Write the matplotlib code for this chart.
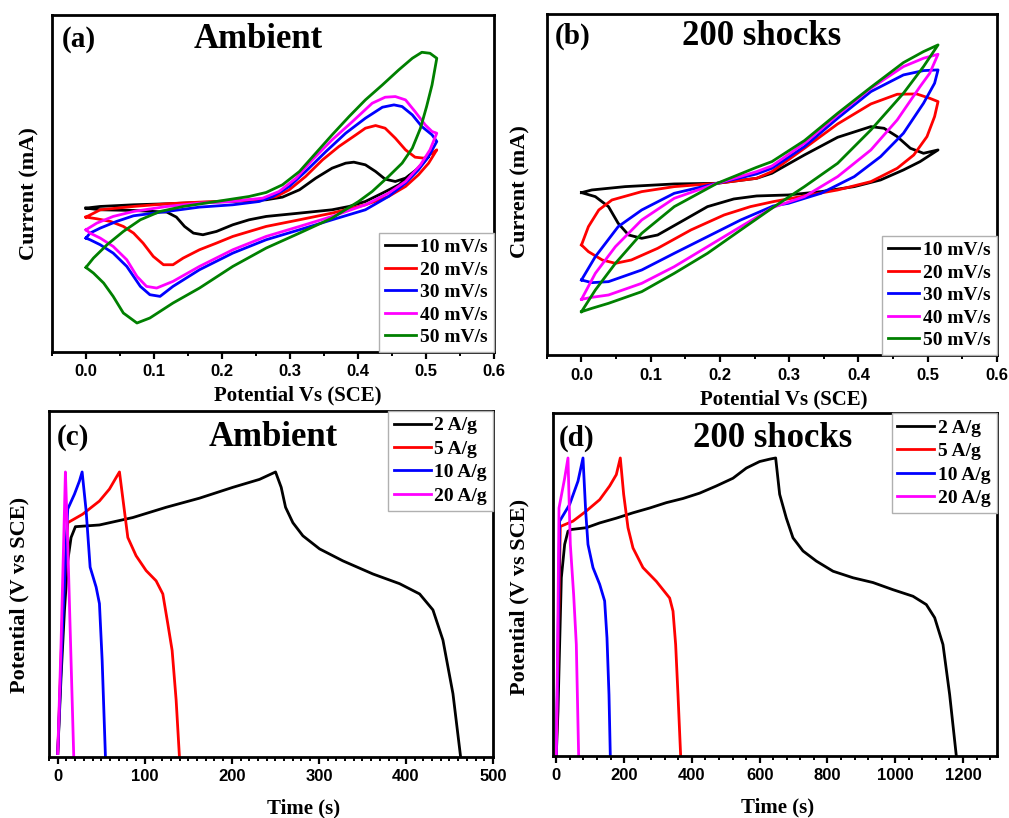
import matplotlib.pyplot as plt
from matplotlib.ticker import MultipleLocator

# ---- CV data, Ambient (potential in V, current in mA) ----
amb_10_fwd_v = [0, 0.021, 0.070, 0.119, 0.167, 0.216, 0.265, 0.289, 0.314, 0.338, 0.362, 0.382, 0.394, 0.411, 0.426, 0.440, 0.455, 0.470, 0.489, 0.504]
amb_10_fwd_i = [-0.10, -0.05, 0.00, 0.03, 0.07, 0.10, 0.15, 0.23, 0.45, 0.80, 1.10, 1.25, 1.28, 1.20, 1.00, 0.77, 0.70, 0.80, 1.10, 1.45]
amb_10_rev_v = [0.504, 0.484, 0.460, 0.436, 0.411, 0.387, 0.362, 0.314, 0.265, 0.240, 0.216, 0.192, 0.172, 0.158, 0.145, 0.133, 0.119, 0.070, 0.021, 0]
amb_10_rev_i = [1.45, 1.00, 0.60, 0.35, 0.10, -0.05, -0.15, -0.25, -0.35, -0.45, -0.60, -0.80, -0.90, -0.85, -0.65, -0.37, -0.22, -0.17, -0.15, -0.10]

amb_20_fwd_v = [0, 0.021, 0.070, 0.119, 0.167, 0.216, 0.260, 0.280, 0.299, 0.323, 0.348, 0.372, 0.397, 0.411, 0.426, 0.440, 0.455, 0.470, 0.484, 0.497, 0.509, 0.516]
amb_20_fwd_i = [-0.37, -0.15, -0.05, 0.03, 0.08, 0.12, 0.17, 0.25, 0.45, 0.85, 1.35, 1.75, 2.10, 2.30, 2.38, 2.30, 2.00, 1.65, 1.43, 1.40, 1.55, 1.65]
amb_20_rev_v = [0.516, 0.504, 0.489, 0.470, 0.445, 0.411, 0.362, 0.314, 0.265, 0.216, 0.192, 0.167, 0.143, 0.128, 0.114, 0.099, 0.084, 0.070, 0.055, 0.036, 0.016, 0]
amb_20_rev_i = [1.65, 1.25, 0.90, 0.55, 0.25, 0.00, -0.25, -0.45, -0.65, -0.95, -1.15, -1.35, -1.60, -1.80, -1.80, -1.55, -1.15, -0.85, -0.65, -0.50, -0.42, -0.37]

amb_30_fwd_v = [0, 0.006, 0.021, 0.045, 0.070, 0.119, 0.167, 0.216, 0.255, 0.275, 0.299, 0.323, 0.353, 0.382, 0.411, 0.436, 0.453, 0.465, 0.480, 0.494, 0.509, 0.516]
amb_30_fwd_i = [-1.00, -0.85, -0.70, -0.50, -0.33, -0.20, -0.07, 0.00, 0.10, 0.25, 0.55, 1.00, 1.60, 2.15, 2.60, 2.93, 3.00, 2.95, 2.70, 2.35, 2.10, 1.90]
amb_30_rev_v = [0.516, 0.504, 0.489, 0.470, 0.445, 0.411, 0.362, 0.314, 0.265, 0.216, 0.167, 0.128, 0.109, 0.094, 0.080, 0.060, 0.040, 0.021, 0.006, 0]
amb_30_rev_i = [1.90, 1.45, 1.05, 0.65, 0.25, -0.15, -0.45, -0.75, -1.05, -1.45, -1.95, -2.45, -2.75, -2.70, -2.45, -1.85, -1.45, -1.20, -1.05, -1.00]

amb_40_fwd_v = [0, 0.016, 0.040, 0.070, 0.119, 0.167, 0.216, 0.260, 0.284, 0.309, 0.333, 0.362, 0.392, 0.421, 0.440, 0.455, 0.470, 0.484, 0.499, 0.509, 0.516]
amb_40_fwd_i = [-0.75, -0.55, -0.35, -0.20, -0.05, 0.05, 0.10, 0.20, 0.40, 0.80, 1.35, 1.95, 2.50, 3.05, 3.23, 3.25, 3.15, 2.80, 2.40, 2.20, 2.15]
amb_40_rev_v = [0.516, 0.506, 0.492, 0.470, 0.445, 0.411, 0.362, 0.314, 0.265, 0.216, 0.167, 0.128, 0.104, 0.089, 0.075, 0.060, 0.040, 0.021, 0.006, 0]
amb_40_rev_i = [2.15, 1.65, 1.20, 0.70, 0.35, 0.00, -0.35, -0.65, -0.95, -1.35, -1.85, -2.30, -2.50, -2.45, -2.15, -1.65, -1.25, -1.00, -0.85, -0.75]

amb_50_fwd_v = [0, 0.011, 0.031, 0.055, 0.080, 0.109, 0.143, 0.192, 0.240, 0.265, 0.289, 0.314, 0.338, 0.362, 0.387, 0.411, 0.436, 0.460, 0.480, 0.494, 0.506, 0.516]
amb_50_fwd_i = [-1.88, -1.60, -1.20, -0.80, -0.45, -0.20, -0.05, 0.10, 0.25, 0.37, 0.60, 1.00, 1.55, 2.10, 2.65, 3.15, 3.60, 4.05, 4.40, 4.58, 4.55, 4.40]
amb_50_rev_v = [0.516, 0.509, 0.501, 0.492, 0.480, 0.465, 0.445, 0.421, 0.401, 0.362, 0.314, 0.265, 0.216, 0.167, 0.128, 0.094, 0.075, 0.055, 0.040, 0.026, 0.011, 0]
amb_50_rev_i = [4.40, 3.60, 2.95, 2.30, 1.70, 1.25, 0.85, 0.40, 0.10, -0.40, -0.85, -1.30, -1.85, -2.50, -2.95, -3.40, -3.55, -3.25, -2.75, -2.35, -2.05, -1.88]

# ---- CV data, 200 shocks ----
sh_10_fwd_v = [0, 0.015, 0.063, 0.134, 0.196, 0.253, 0.275, 0.322, 0.370, 0.418, 0.437, 0.456, 0.475, 0.494, 0.515]
sh_10_fwd_i = [-0.28, -0.20, -0.10, -0.02, 0.00, 0.15, 0.30, 0.85, 1.38, 1.70, 1.65, 1.40, 1.05, 0.90, 1.00]
sh_10_rev_v = [0.515, 0.489, 0.465, 0.432, 0.394, 0.346, 0.299, 0.253, 0.220, 0.182, 0.144, 0.110, 0.087, 0.068, 0.053, 0.039, 0.020, 0]
sh_10_rev_i = [1.00, 0.65, 0.40, 0.10, -0.10, -0.25, -0.35, -0.38, -0.47, -0.70, -1.15, -1.55, -1.65, -1.55, -1.20, -0.70, -0.40, -0.28]

sh_20_fwd_v = [0, 0.010, 0.025, 0.044, 0.087, 0.134, 0.196, 0.253, 0.275, 0.322, 0.370, 0.418, 0.456, 0.484, 0.503, 0.515]
sh_20_fwd_i = [-1.85, -1.30, -0.80, -0.50, -0.25, -0.10, 0.00, 0.15, 0.35, 1.05, 1.78, 2.38, 2.67, 2.68, 2.55, 2.45]
sh_20_rev_v = [0.515, 0.510, 0.499, 0.480, 0.456, 0.418, 0.370, 0.322, 0.277, 0.244, 0.206, 0.158, 0.110, 0.072, 0.049, 0.030, 0.010, 0]
sh_20_rev_i = [2.45, 2.00, 1.40, 0.85, 0.45, 0.05, -0.20, -0.38, -0.55, -0.70, -0.95, -1.40, -1.95, -2.30, -2.40, -2.30, -2.05, -1.85]

sh_30_fwd_v = [0, 0.020, 0.053, 0.087, 0.134, 0.196, 0.253, 0.275, 0.322, 0.370, 0.418, 0.465, 0.494, 0.515]
sh_30_fwd_i = [-2.90, -2.20, -1.30, -0.80, -0.30, 0.00, 0.28, 0.45, 1.10, 1.95, 2.75, 3.25, 3.38, 3.40]
sh_30_rev_v = [0.515, 0.510, 0.494, 0.465, 0.432, 0.394, 0.346, 0.299, 0.277, 0.230, 0.182, 0.134, 0.087, 0.039, 0.015, 0]
sh_30_rev_i = [3.40, 3.00, 2.40, 1.50, 0.80, 0.20, -0.30, -0.60, -0.68, -1.10, -1.60, -2.10, -2.60, -2.95, -2.98, -2.90]

sh_40_fwd_v = [0, 0.020, 0.049, 0.087, 0.134, 0.196, 0.253, 0.275, 0.322, 0.370, 0.418, 0.465, 0.494, 0.515]
sh_40_fwd_i = [-3.48, -2.70, -1.90, -1.10, -0.45, 0.00, 0.35, 0.52, 1.20, 2.05, 2.85, 3.50, 3.75, 3.87]
sh_40_rev_v = [0.515, 0.503, 0.489, 0.456, 0.418, 0.370, 0.322, 0.277, 0.230, 0.182, 0.134, 0.087, 0.039, 0.015, 0]
sh_40_rev_i = [3.87, 3.30, 2.90, 1.90, 1.00, 0.20, -0.40, -0.72, -1.30, -1.90, -2.50, -3.00, -3.35, -3.42, -3.48]

sh_50_fwd_v = [0, 0.020, 0.049, 0.087, 0.134, 0.196, 0.253, 0.275, 0.322, 0.370, 0.418, 0.465, 0.494, 0.515]
sh_50_fwd_i = [-3.85, -3.20, -2.40, -1.50, -0.70, 0.00, 0.48, 0.65, 1.28, 2.10, 2.88, 3.62, 3.95, 4.15]
sh_50_rev_v = [0.515, 0.494, 0.465, 0.418, 0.370, 0.322, 0.277, 0.230, 0.182, 0.134, 0.087, 0.039, 0.015, 0]
sh_50_rev_i = [4.15, 3.50, 2.70, 1.60, 0.60, -0.10, -0.72, -1.40, -2.10, -2.70, -3.25, -3.60, -3.75, -3.85]

# ---- GCD data, Ambient (time in s, potential in V) ----
amb_2_t = [0, 3.8, 7.7, 11.5, 15.3, 20.3, 47.9, 86.2, 124.5, 162.8, 201.1, 231.8, 250.2, 256.7, 261.7, 270.1, 281.6, 300.8, 327.6, 362.1, 392.7, 415.7, 431.0, 442.5, 454.0, 462.8]
amb_2_u = [0.006, 0.140, 0.257, 0.344, 0.385, 0.404, 0.407, 0.420, 0.438, 0.454, 0.473, 0.487, 0.500, 0.473, 0.438, 0.411, 0.388, 0.365, 0.344, 0.321, 0.304, 0.286, 0.258, 0.205, 0.111, 0.0]
amb_5_t = [0, 5.7, 11.5, 28.7, 47.9, 59.4, 67.0, 70.9, 80.5, 90.0, 101.5, 113.0, 120.7, 126.4, 131.4, 136.0, 139.8]
amb_5_u = [0.006, 0.257, 0.411, 0.426, 0.449, 0.470, 0.490, 0.500, 0.385, 0.353, 0.327, 0.309, 0.286, 0.234, 0.187, 0.100, 0.0]
amb_10_t = [0, 5.7, 11.5, 19.2, 24.9, 28.0, 32.6, 37.2, 44.1, 47.9, 51.0, 54.8]
amb_10_u = [0.006, 0.234, 0.435, 0.461, 0.484, 0.500, 0.432, 0.333, 0.298, 0.269, 0.170, 0.0]
amb_20_t = [0, 3.8, 7.7, 8.8, 11.5, 14.2, 18.4]
amb_20_u = [0.006, 0.199, 0.432, 0.500, 0.374, 0.228, 0.0]

# ---- GCD data, 200 shocks ----
sh_2_t = [0, 4.9, 9.8, 14.8, 24.6, 34.4, 44.3, 88.5, 127.9, 177.0, 226.2, 275.4, 324.6, 373.8, 423.0, 472.1, 521.3, 560.6, 600.0, 629.5, 647.2,
          659.0, 678.7, 698.3, 727.8, 767.2, 816.4, 875.4, 934.4, 993.4, 1052.4, 1091.8, 1116.4, 1140.9, 1160.6, 1180.3]
sh_2_u = [0.003, 0.075, 0.187, 0.299, 0.355, 0.377, 0.380, 0.383, 0.391, 0.399, 0.408, 0.416, 0.425, 0.432, 0.441, 0.453, 0.466, 0.483, 0.494, 0.498, 0.500,
          0.439, 0.399, 0.366, 0.344, 0.327, 0.310, 0.299, 0.291, 0.279, 0.268, 0.254, 0.232, 0.187, 0.103, 0.0]
sh_5_t = [0, 5.9, 11.8, 49.2, 88.5, 127.9, 157.4, 177.0, 188.8, 198.7, 211.5, 226.2, 255.7, 295.1, 334.4, 344.3, 352.1, 359.0, 366.9]
sh_5_u = [0.003, 0.187, 0.385, 0.394, 0.411, 0.430, 0.453, 0.472, 0.500, 0.439, 0.383, 0.349, 0.316, 0.293, 0.265, 0.243, 0.187, 0.103, 0.0]
sh_10_t = [0, 4.9, 9.8, 39.3, 63.9, 78.7, 86.6, 93.4, 108.2, 127.9, 142.6, 149.5, 155.4, 159.3]
sh_10_u = [0.003, 0.187, 0.394, 0.422, 0.461, 0.500, 0.411, 0.355, 0.316, 0.288, 0.260, 0.198, 0.103, 0.0]
sh_20_t = [0, 3.9, 7.9, 24.6, 34.4, 41.3, 51.1, 59.0, 65.9]
sh_20_u = [0.003, 0.187, 0.416, 0.466, 0.500, 0.355, 0.271, 0.187, 0.0]

cv_labels = ['10 mV/s', '20 mV/s', '30 mV/s', '40 mV/s', '50 mV/s']
gcd_labels = ['2 A/g', '5 A/g', '10 A/g', '20 A/g']
cv_colors = ['black', '#ff0000', '#0000ff', '#ff00ff', '#008000']
gcd_colors = ['black', '#ff0000', '#0000ff', '#ff00ff']

SERIF = 'Liberation Serif'
SANS = 'Liberation Sans'

# tick labels: bold sans; everything else names the serif face explicitly
plt.rcParams['font.family'] = [SANS, 'DejaVu Sans']
plt.rcParams['font.weight'] = 'bold'
plt.rcParams['xtick.labelsize'] = 12

fig = plt.figure(figsize=(10.09, 8.18), dpi=100)
ax_a = fig.add_axes([0.0515, 0.5697, 0.438, 0.412])
ax_b = fig.add_axes([0.542, 0.566, 0.446, 0.417])
ax_c = fig.add_axes([0.0486, 0.0746, 0.440, 0.423])
ax_d = fig.add_axes([0.548, 0.0758, 0.440, 0.419])


def style_axes(ax):
    for sp in ax.spines.values():
        sp.set_linewidth(2.0)
    ax.tick_params(axis='x', which='major', direction='out', length=5, width=1.6, pad=4)
    ax.tick_params(axis='x', which='minor', direction='out', length=3, width=1.4)
    ax.tick_params(axis='y', which='both', left=False, labelleft=False)


def cv_panel(ax, curves, tag, title, ylim, tag_xy, title_xy, xlab_x):
    for (fv, fi, rv, ri), col, lab in zip(curves, cv_colors, cv_labels):
        ax.plot(fv + rv, fi + ri, color=col, lw=2.0, label=lab)
    ax.set_xlim(-0.05, 0.6)
    ax.set_ylim(*ylim)
    ax.xaxis.set_major_locator(MultipleLocator(0.1))
    ax.xaxis.set_minor_locator(MultipleLocator(0.05))
    ax.xaxis.set_major_formatter(plt.FuncFormatter(lambda v, p: f'{v:.1f}'))
    style_axes(ax)
    ax.set_xlabel('Potential Vs (SCE)', family=SERIF, weight='bold', fontsize=15)
    ax.set_ylabel('Current (mA)', family=SERIF, weight='bold', fontsize=16)
    ax.xaxis.set_label_coords(xlab_x, -0.10)
    ax.text(*tag_xy, tag, transform=ax.transAxes, family=SERIF, weight='bold',
            fontsize=21, ha='left', va='center')
    ax.text(*title_xy, title, transform=ax.transAxes, family=SERIF, weight='bold',
            fontsize=25, ha='center', va='center')
    ax.legend(loc='lower right', borderaxespad=0, fancybox=False, framealpha=1,
              edgecolor='#b0b0b0', handlelength=1.6, handletextpad=0.2,
              labelspacing=0.25, borderpad=0.3,
              prop={'family': SERIF, 'weight': 'bold', 'size': 14})


def gcd_panel(ax, curves, tag, title, xlim, major, minor, ylim, tag_xy, title_xy, xlab_x):
    for (t, u), col, lab in zip(curves, gcd_colors, gcd_labels):
        ax.plot(t, u, color=col, lw=2.0, label=lab)
    ax.set_xlim(*xlim)
    ax.set_ylim(*ylim)
    ax.xaxis.set_major_locator(MultipleLocator(major))
    ax.xaxis.set_minor_locator(MultipleLocator(minor))
    style_axes(ax)
    ax.set_xlabel('Time (s)', family=SERIF, weight='bold', fontsize=15)
    ax.set_ylabel('Potential (V vs SCE)', family=SERIF, weight='bold', fontsize=16)
    ax.xaxis.set_label_coords(xlab_x, -0.12)
    ax.text(*tag_xy, tag, transform=ax.transAxes, family=SERIF, weight='bold',
            fontsize=21, ha='left', va='center')
    ax.text(*title_xy, title, transform=ax.transAxes, family=SERIF, weight='bold',
            fontsize=25, ha='center', va='center')
    ax.legend(loc='upper right', borderaxespad=0, fancybox=False, framealpha=1,
              edgecolor='#b0b0b0', handlelength=1.9, handletextpad=0.2,
              labelspacing=0.3, borderpad=0.3,
              prop={'family': SERIF, 'weight': 'bold', 'size': 14})


cv_panel(ax_a,
         [(amb_10_fwd_v, amb_10_fwd_i, amb_10_rev_v, amb_10_rev_i),
          (amb_20_fwd_v, amb_20_fwd_i, amb_20_rev_v, amb_20_rev_i),
          (amb_30_fwd_v, amb_30_fwd_i, amb_30_rev_v, amb_30_rev_i),
          (amb_40_fwd_v, amb_40_fwd_i, amb_40_rev_v, amb_40_rev_i),
          (amb_50_fwd_v, amb_50_fwd_i, amb_50_rev_v, amb_50_rev_i)],
         '(a)', 'Ambient', (-4.42, 5.70), (0.023, 0.926), (0.466, 0.926), 0.557)
ax_a.yaxis.set_label_coords(-0.028, 0.47)

cv_panel(ax_b,
         [(sh_10_fwd_v, sh_10_fwd_i, sh_10_rev_v, sh_10_rev_i),
          (sh_20_fwd_v, sh_20_fwd_i, sh_20_rev_v, sh_20_rev_i),
          (sh_30_fwd_v, sh_30_fwd_i, sh_30_rev_v, sh_30_rev_i),
          (sh_40_fwd_v, sh_40_fwd_i, sh_40_rev_v, sh_40_rev_i),
          (sh_50_fwd_v, sh_50_fwd_i, sh_50_rev_v, sh_50_rev_i)],
         '(b)', '200 shocks', (-5.15, 5.08), (0.018, 0.933), (0.478, 0.933), 0.527)
ax_b.yaxis.set_label_coords(-0.037, 0.478)

gcd_panel(ax_c,
          [(amb_2_t, amb_2_u), (amb_5_t, amb_5_u), (amb_10_t, amb_10_u), (amb_20_t, amb_20_u)],
          '(c)', 'Ambient', (-10, 500), 100, 10, (0, 0.607), (0.018, 0.922), (0.505, 0.922), 0.574)
ax_c.yaxis.set_label_coords(-0.045, 0.468)

gcd_panel(ax_d,
          [(sh_2_t, sh_2_u), (sh_5_t, sh_5_u), (sh_10_t, sh_10_u), (sh_20_t, sh_20_u)],
          '(d)', '200 shocks', (-10, 1300), 200, 40, (0, 0.575), (0.014, 0.927), (0.495, 0.927), 0.505)
ax_d.yaxis.set_label_coords(-0.052, 0.464)

fig.savefig('out.png', dpi=100)
